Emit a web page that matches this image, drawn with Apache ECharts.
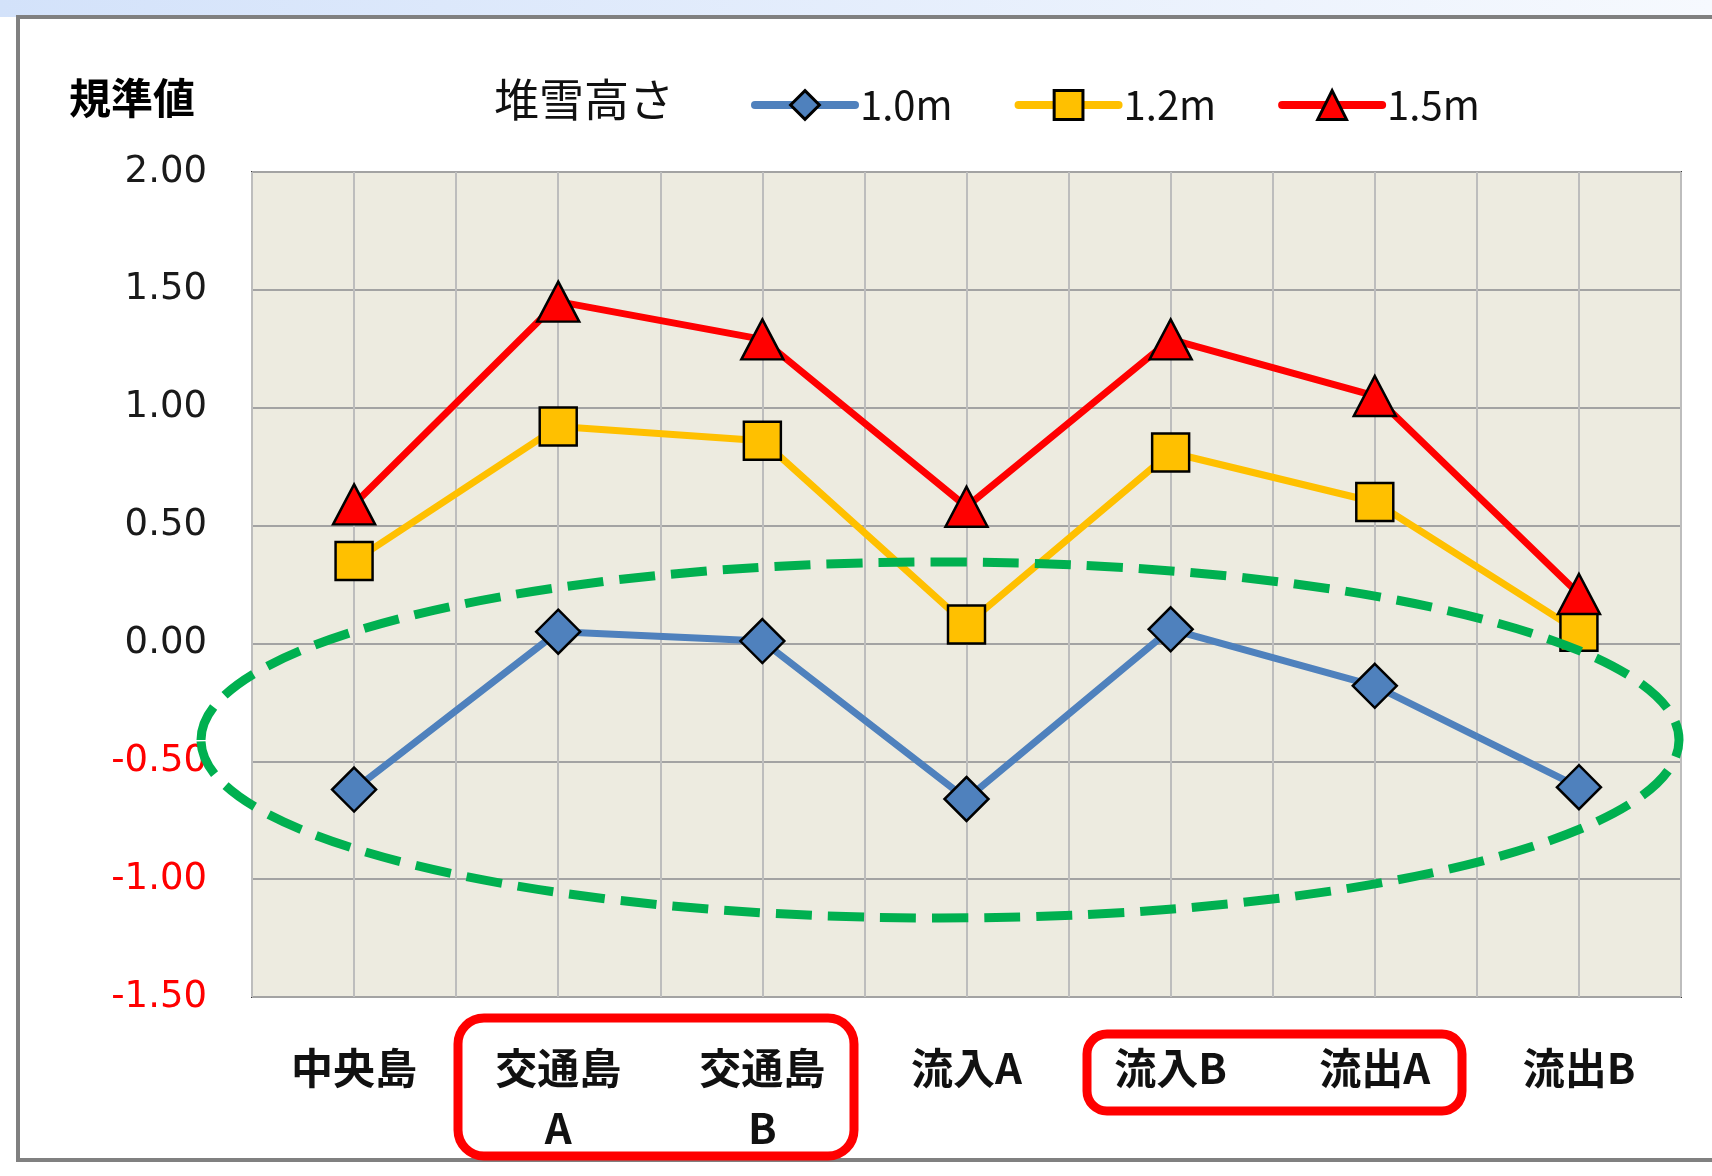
<!DOCTYPE html>
<html>
<head>
<meta charset="utf-8">
<script src="https://cdn.jsdelivr.net/npm/echarts@6/dist/echarts.min.js"></script>
<style>
html,body{margin:0;padding:0;background:#fff;}
#c{width:1712px;height:1176px;}
</style>
</head>
<body>
<div id="c"></div>
<script>
// ---- data ----
const categories = ['中央島', '交通島\nA', '交通島\nB', '流入A', '流入B', '流出A', '流出B'];
const seriesNames = ['1.0m', '1.2m', '1.5m'];
const h10 = [-0.62, 0.05, 0.01, -0.66, 0.06, -0.18, -0.61];
const h12 = [0.35, 0.92, 0.86, 0.08, 0.81, 0.60, 0.05];
const h15 = [0.59, 1.45, 1.29, 0.58, 1.29, 1.05, 0.21];
const yMin = -1.5, yMax = 2.0, yStep = 0.5;
const yTitle = '規準値';
const legendTitle = '堆雪高さ';

const chart = echarts.init(document.getElementById('c'), null, {renderer: 'canvas'});
const catFont = '"Noto Sans CJK JP", "Noto Sans", sans-serif';
const numFont = '"DejaVu Sans", Verdana, sans-serif';
const narrowFont = '"Liberation Sans Narrow", "Noto Sans CJK JP", sans-serif';

function mk(name, data, color, symbol, size) {
  return {
    name: name, type: 'line', data: data, xAxisIndex: 0, yAxisIndex: 0,
    symbol: symbol, symbolSize: size, showAllSymbol: true,
    lineStyle: {color: color, width: 7},
    itemStyle: {color: color, borderColor: '#000', borderWidth: 2.5},
    emphasis: {disabled: true}, animation: false, z: 3
  };
}

chart.setOption({
  animation: false,
  backgroundColor: '#ffffff',
  grid: {left: 252, top: 172, width: 1429, height: 825, show: true,
         backgroundColor: '#EDEBE0', borderColor: '#3a3a3a', borderWidth: 2},
  legend: {
    data: seriesNames, left: 746, top: 80, itemWidth: 100, itemHeight: 36, itemGap: 62,
    lineStyle: {width: 8, cap: 'round'},
    itemStyle: {borderWidth: 3},
    textStyle: {fontSize: 40, fontFamily: narrowFont, color: '#111'},
    selectedMode: false
  },
  xAxis: [
    {type: 'category', data: categories, boundaryGap: true,
     axisLine: {show: false}, axisTick: {show: false}, splitLine: {show: false},
     axisLabel: {interval: 0, margin: 41, fontSize: 42, lineHeight: 60, fontWeight: 'bold',
                 fontFamily: catFont, color: '#111'}},
    {type: 'value', min: 0, max: 14, interval: 1, position: 'bottom', gridIndex: 0,
     axisLine: {show: false}, axisTick: {show: false}, axisLabel: {show: false},
     splitLine: {show: true, lineStyle: {color: '#BDBDBD', width: 2}}}
  ],
  yAxis: {
    type: 'value', min: yMin, max: yMax, interval: yStep,
    axisLine: {show: false}, axisTick: {show: false},
    splitLine: {show: true, lineStyle: {color: '#A3A3A3', width: 2}},
    axisLabel: {
      margin: 45, fontSize: 37, fontFamily: numFont,
      formatter: function (v) { return (v < 0 ? '{n|' : '{p|') + v.toFixed(2) + '}'; },
      rich: {p: {color: '#1a1a1a', fontSize: 37, fontFamily: numFont},
             n: {color: '#FF0000', fontSize: 37, fontFamily: numFont}}
    }
  },
  series: [
    mk(seriesNames[0], h10, '#4F81BD', 'diamond', [44, 44]),
    mk(seriesNames[1], h12, '#FFC000', 'rect', [37, 38]),
    mk(seriesNames[2], h15, '#FF0000', 'triangle', [42, 40])
  ],
  graphic: [
    {type: 'rect', z: -10, silent: true, shape: {x: 0, y: 0, width: 1712, height: 17},
     style: {fill: new echarts.graphic.LinearGradient(0, 0, 1, 0, [{offset: 0, color: '#D3E2FA'}, {offset: 1, color: '#F6F9FE'}])}},
    {type: 'rect', z: -9, silent: true, shape: {x: 18, y: 17, width: 1720, height: 1143},
     style: {fill: 'rgba(0,0,0,0)', stroke: '#808080', lineWidth: 4}},
    {type: 'text', silent: true, x: 69, y: 98,
     style: {text: yTitle, font: 'bold 42px "Noto Sans CJK JP"', fill: '#000', verticalAlign: 'middle'}},
    {type: 'text', silent: true, x: 494, y: 100,
     style: {text: legendTitle, font: '45px "Noto Sans CJK JP"', fill: '#111', verticalAlign: 'middle'}},
    {type: 'ellipse', z: 50, silent: true, shape: {cx: 940, cy: 740, rx: 739, ry: 178},
     style: {fill: 'none', stroke: '#00B050', lineWidth: 9, lineDash: [36, 16]}},
    {type: 'rect', z: 50, silent: true, shape: {x: 458, y: 1018, width: 396, height: 138, r: 26},
     style: {fill: 'none', stroke: '#FF0000', lineWidth: 9}},
    {type: 'rect', z: 50, silent: true, shape: {x: 1087, y: 1034, width: 375, height: 77, r: 20},
     style: {fill: 'none', stroke: '#FF0000', lineWidth: 9}}
  ]
});
</script>
</body>
</html>
